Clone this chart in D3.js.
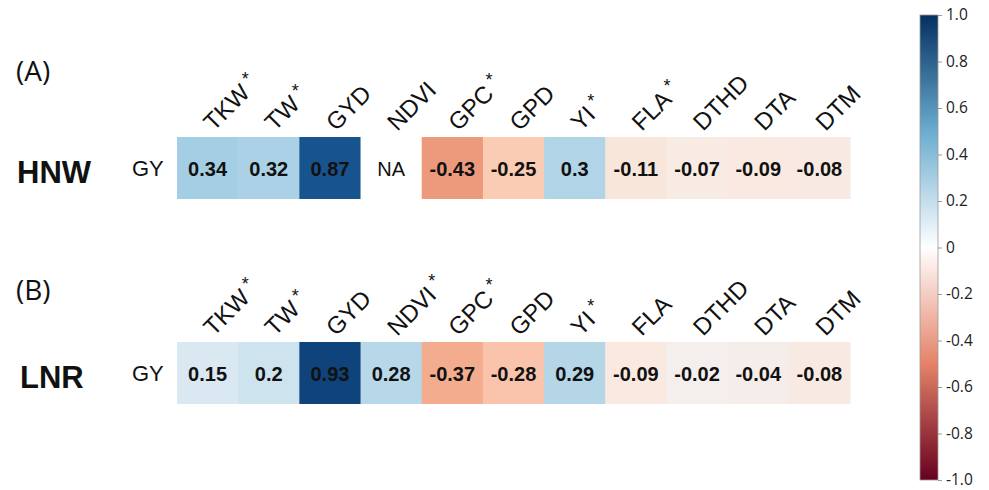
<!DOCTYPE html>
<html>
<head>
<meta charset="utf-8">
<script src="https://cdn.jsdelivr.net/npm/d3@7"></script>
<style>
  body { margin: 0; background: #fff; }
  svg { display: block; }
</style>
</head>
<body>
<svg id="chart" width="989" height="490"></svg>
<script>
// dados
const traits = ["TKW", "TW", "GYD", "NDVI", "GPC", "GPD", "YI", "FLA", "DTHD", "DTA", "DTM"];
const valoresA = [0.34, 0.32, 0.87, null, -0.43, -0.25, 0.3, -0.11, -0.07, -0.09, -0.08];
const sigA = [true, true, false, false, true, false, true, true, false, false, false];
const valoresB = [0.15, 0.2, 0.93, 0.28, -0.37, -0.28, 0.29, -0.09, -0.02, -0.04, -0.08];
const sigB = [true, true, false, true, true, false, true, false, false, false, false];
const ticksBarra = [1.0, 0.8, 0.6, 0.4, 0.2, 0, -0.2, -0.4, -0.6, -0.8, -1.0];
const tickLabels = ["1.0", "0.8", "0.6", "0.4", "0.2", "0", "-0.2", "-0.4", "-0.6", "-0.8", "-1.0"];

const svg = d3.select("#chart");

// escala de cor: branco no zero
const cor = d3.scaleLinear()
  .domain([-1, -0.5, 0, 0.5, 1])
  .range([d3.interpolateRdBu(0), d3.interpolateRdBu(0.25), "#ffffff", d3.interpolateRdBu(0.75), d3.interpolateRdBu(1)])
  .interpolate(d3.interpolateRgb);
const corCelula = v => d3.interpolateRdBu((v + 1) / 2);

// eixo x dos quadrados
const x = d3.scaleBand()
  .domain(traits)
  .range([177, 850]);

const paineis = [
  { letra: "(A)", local: "HNW", localX: 17, letraY: 81, localY: 183, top: 137, valores: valoresA, sig: sigA },
  { letra: "(B)", local: "LNR", localX: 20, letraY: 300, localY: 388, top: 342, valores: valoresB, sig: sigB }
];
const cellH = 62;

paineis.forEach(p => {
  const g = svg.append("g");

  g.append("text")
    .attr("x", 16).attr("y", p.letraY)
    .attr("font-family", "Open Sans")
    .attr("font-size", 28)
    .attr("fill", "#111")
    .text(p.letra);

  g.append("text")
    .attr("x", p.localX).attr("y", p.localY)
    .attr("font-family", "Liberation Sans")
    .attr("font-weight", "bold")
    .attr("font-size", 31)
    .attr("fill", "#111")
    .text(p.local);

  g.append("text")
    .attr("x", 132).attr("y", p.top + cellH / 2 + 8)
    .attr("font-family", "Liberation Sans")
    .attr("font-size", 22)
    .attr("fill", "#111")
    .text("GY");

  const linhas = traits.map((t, i) => ({ t, v: p.valores[i] }));

  // quadrados
  g.selectAll("rect.cell")
    .data(linhas)
    .join("rect")
    .attr("class", "cell")
    .attr("x", d => x(d.t))
    .attr("y", p.top)
    .attr("width", x.bandwidth() + 0.5)
    .attr("height", cellH)
    .attr("fill", d => d.v === null ? "#fff" : corCelula(d.v));

  // valores
  g.selectAll("text.val")
    .data(linhas)
    .join("text")
    .attr("class", "val")
    .attr("x", d => x(d.t) + x.bandwidth() / 2)
    .attr("y", p.top + cellH / 2 + 8)
    .attr("text-anchor", "middle")
    .attr("font-family", "Liberation Sans")
    .attr("font-weight", d => d.v === null ? "normal" : "bold")
    .attr("font-size", 20)
    .attr("fill", "#111")
    .text(d => d.v === null ? "NA" : String(d.v));

  // rotulos inclinados
  traits.forEach((t, i) => {
    const x0 = x(t) + x.bandwidth() / 2 + 6;
    const y0 = p.top - 5;
    const lab = g.append("text")
      .attr("transform", `translate(${x0},${y0}) rotate(-45)`)
      .attr("font-family", "Liberation Sans")
      .attr("font-size", 24)
      .attr("fill", "#111")
      .text(t);
    if (p.sig[i]) {
      const len = lab.node().getComputedTextLength();
      const ex = x0 + len * Math.SQRT1_2;
      const ey = y0 - len * Math.SQRT1_2;
      g.append("text")
        .attr("x", ex - 6)
        .attr("y", ey - 9)
        .attr("text-anchor", "middle")
        .attr("font-family", "Liberation Sans")
        .attr("font-size", 18)
        .attr("fill", "#111")
        .text("*");
    }
  });
});

// barra de cores
const yBar = d3.scaleLinear().domain([-1, 1]).range([480, 15]);
const grad = svg.append("defs").append("linearGradient")
  .attr("id", "grad")
  .attr("x1", 0).attr("y1", 1).attr("x2", 0).attr("y2", 0);
d3.range(0, 1.0001, 0.05).forEach(s => {
  grad.append("stop")
    .attr("offset", s)
    .attr("stop-color", cor(s * 2 - 1));
});

svg.append("rect")
  .attr("x", 920)
  .attr("y", yBar(1))
  .attr("width", 18)
  .attr("height", yBar(-1) - yBar(1))
  .attr("fill", "url(#grad)")
  .attr("stroke", "#999")
  .attr("stroke-width", 0.8);

const eixo = svg.append("g")
  .attr("transform", "translate(938,0)")
  .call(d3.axisRight(yBar).tickValues(ticksBarra).tickSize(4).tickFormat((d, i) => tickLabels[i]));
eixo.select(".domain").remove();
eixo.selectAll("line").attr("stroke", "#999");
eixo.selectAll("text")
  .attr("x", 8)
  .attr("font-family", "Open Sans")
  .attr("font-size", 15.5)
  .attr("fill", "#222");
</script>
</body>
</html>
